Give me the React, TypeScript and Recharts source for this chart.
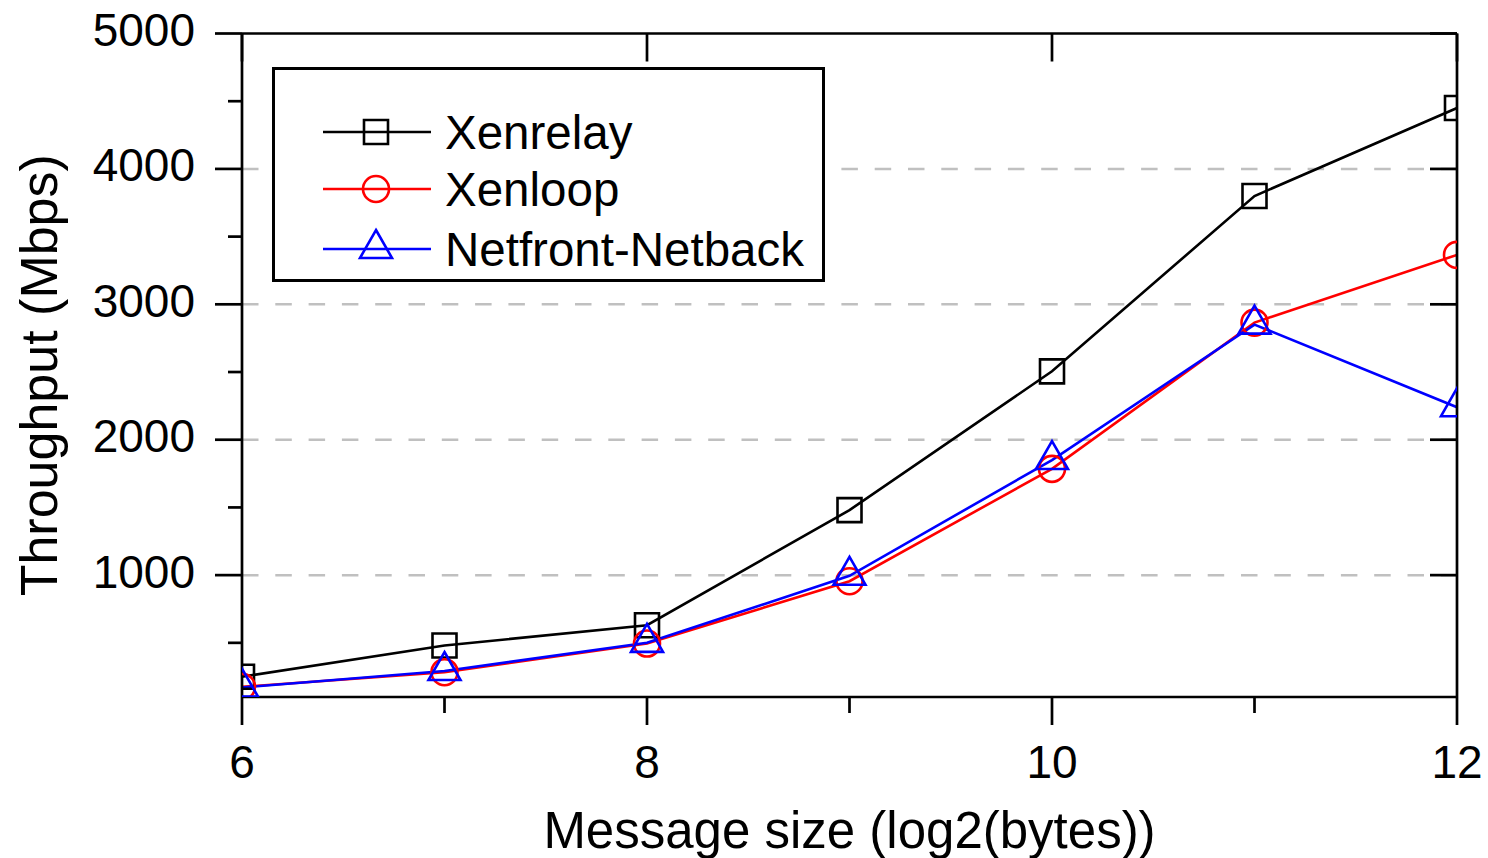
import React from 'react';
import { LineChart, Line, XAxis, YAxis, ReferenceLine, Legend } from 'recharts';

// ---- data ----
const messageSizes = [6, 7, 8, 9, 10, 11, 12];
const xenrelay = [250, 480, 630, 1480, 2505, 3800, 4450];
const xenloop = [175, 283, 495, 955, 1785, 2865, 3365];
const netfront = [170, 292, 500, 995, 1850, 2850, 2240];
const seriesNames = ['Xenrelay', 'Xenloop', 'Netfront-Netback'];

const xTicks = [6, 7, 8, 9, 10, 11, 12];
const xMajorTicks = [6, 8, 10, 12];
const yTicks = [500, 1000, 1500, 2000, 2500, 3000, 3500, 4000, 4500, 5000];
const yMajorTicks = [1000, 2000, 3000, 4000, 5000];
const gridValues = [1000, 2000, 3000, 4000];
const yDomain = [100, 5000];
const xDomain = [6, 12];

const xTitle = 'Message size (log2(bytes))';
const yTitle = 'Throughput (Mbps)';

const data = messageSizes.map((x, i) => ({
  x,
  xenrelay: xenrelay[i],
  xenloop: xenloop[i],
  netfront: netfront[i],
}));

// ---- styles ----
const FONT = '"Liberation Sans", Arial, sans-serif';
const FRAME_W = 2.7;
const W = 1488;
const H = 858;

const squarePath = (cx: number, cy: number, s: number) =>
  `M${cx - s},${cy - s}H${cx + s}V${cy + s}H${cx - s}Z`;
const trianglePath = (cx: number, cy: number) =>
  `M${cx},${cy - 19}L${cx + 16},${cy + 9}L${cx - 16},${cy + 9}Z`;

const Marker = ({ kind, cx, cy, color }: { kind: string; cx: number; cy: number; color: string }) => {
  if (kind === 'square')
    return <path d={squarePath(cx, cy, 12)} fill="none" stroke={color} strokeWidth={2.6} />;
  if (kind === 'circle')
    return <circle cx={cx} cy={cy} r={13} fill="none" stroke={color} strokeWidth={2.6} />;
  return <path d={trianglePath(cx, cy)} fill="none" stroke={color} strokeWidth={2.6} strokeLinejoin="miter" />;
};

const series = [
  { key: 'xenrelay', name: seriesNames[0], color: '#000000', marker: 'square' },
  { key: 'xenloop', name: seriesNames[1], color: '#ff0000', marker: 'circle' },
  { key: 'netfront', name: seriesNames[2], color: '#0000ff', marker: 'triangle' },
];

const LeftTick = (props: any) => {
  const { x, y, payload } = props;
  const major = payload.value % 1000 === 0;
  return (
    <g>
      <line x1={x - (major ? 27 : 14)} x2={x} y1={y} y2={y} stroke="#000" strokeWidth={FRAME_W} />
      {major && (
        <text x={x - 47} y={y + 12.5} textAnchor="end" fontSize={46} fontFamily={FONT} fill="#000">
          {payload.value}
        </text>
      )}
    </g>
  );
};

const RightTick = (props: any) => {
  const { x, y } = props;
  return <line x1={x - 27} x2={x} y1={y} y2={y} stroke="#000" strokeWidth={FRAME_W} />;
};

const TopTick = (props: any) => {
  const { x, y } = props;
  return <line x1={x} x2={x} y1={y} y2={y + 28} stroke="#000" strokeWidth={FRAME_W} />;
};

const BottomTick = (props: any) => {
  const { x, y, payload } = props;
  const major = payload.value % 2 === 0;
  return (
    <g>
      <line x1={x} x2={x} y1={y} y2={y + (major ? 28 : 16)} stroke="#000" strokeWidth={FRAME_W} />
      {major && (
        <text x={x} y={y + 81} textAnchor="middle" fontSize={46} fontFamily={FONT} fill="#000">
          {payload.value}
        </text>
      )}
    </g>
  );
};

const LegendBox = () => {
  const rows = [65, 122, 182];
  return (
    <svg width={554} height={215} style={{ display: 'block' }}>
      <rect x={1.5} y={1.5} width={550} height={212} fill="#fff" stroke="#000" strokeWidth={3} />
      {series.map((s, i) => (
        <g key={s.key}>
          <line x1={51} x2={159} y1={rows[i]} y2={rows[i]} stroke={s.color} strokeWidth={2.6} />
          <Marker kind={s.marker} cx={104} cy={rows[i]} color={s.color} />
          <text x={173} y={rows[i] + 17} fontSize={47.5} fontFamily={FONT} fill="#000">
            {s.name}
          </text>
        </g>
      ))}
    </svg>
  );
};

export default function App() {
  return (
    <div style={{ position: 'absolute', left: 0, top: 0, width: W, height: H, background: '#fff' }}>
      <LineChart width={W} height={H} data={data} margin={{ top: 0, right: 0, bottom: 0, left: 0 }}>
        <XAxis
          dataKey="x"
          type="number"
          domain={xDomain}
          ticks={xTicks}
          allowDataOverflow
          height={161}
          tickSize={0}
          tickMargin={0}
          tick={<BottomTick />}
          axisLine={{ stroke: '#000', strokeWidth: FRAME_W }}
          tickLine={false}
          interval={0}
          label={{
            content: (p: any) => {
              const vb = p.viewBox || { x: 242, y: 697, width: 1215, height: 161 };
              return (
                <text x={vb.x + vb.width / 2} y={vb.y + 151} textAnchor="middle" fontSize={51} fontFamily={FONT} fill="#000">
                  {xTitle}
                </text>
              );
            },
          }}
        />
        <XAxis
          xAxisId="top"
          orientation="top"
          dataKey="x"
          type="number"
          domain={xDomain}
          ticks={xMajorTicks}
          allowDataOverflow
          height={33.5}
          tickSize={0}
          tickMargin={0}
          tick={<TopTick />}
          axisLine={{ stroke: '#000', strokeWidth: FRAME_W }}
          tickLine={false}
          interval={0}
        />
        <YAxis
          type="number"
          domain={yDomain}
          ticks={yTicks}
          allowDataOverflow
          width={242}
          tickSize={0}
          tickMargin={0}
          tick={<LeftTick />}
          axisLine={{ stroke: '#000', strokeWidth: FRAME_W }}
          tickLine={false}
          interval={0}
          label={{
            content: (p: any) => {
              const vb = p.viewBox || { x: 0, y: 33.5, width: 242, height: 663.5 };
              const cx = vb.x + 57;
              const cy = vb.y + vb.height / 2 + 10;
              return (
                <text
                  x={cx}
                  y={cy}
                  transform={`rotate(-90, ${cx}, ${cy})`}
                  textAnchor="middle"
                  fontSize={52}
                  fontFamily={FONT}
                  fill="#000"
                >
                  {yTitle}
                </text>
              );
            },
          }}
        />
        <YAxis
          yAxisId="right"
          orientation="right"
          type="number"
          domain={yDomain}
          ticks={yMajorTicks}
          allowDataOverflow
          width={31}
          tickSize={0}
          tickMargin={0}
          tick={<RightTick />}
          axisLine={{ stroke: '#000', strokeWidth: FRAME_W }}
          tickLine={false}
          interval={0}
        />
        {gridValues.map((v) => (
          <ReferenceLine key={v} y={v} stroke="#c0c0c0" strokeWidth={2.5} strokeDasharray="16.5 16.8" />
        ))}
        {series.map((s) => (
          <Line
            key={s.key}
            type="linear"
            dataKey={s.key}
            name={s.name}
            stroke={s.color}
            strokeWidth={2.6}
            isAnimationActive={false}
            activeDot={false}
            legendType="none"
            dot={(p: any) => (
              <Marker key={`${s.key}-${p.index}`} kind={s.marker} cx={p.cx} cy={p.cy} color={s.color} />
            )}
          />
        ))}
        <Legend
          verticalAlign="middle"
          align="center"
          layout="horizontal"
          wrapperStyle={{ left: 272, top: 67, width: 554, height: 215 }}
          content={() => <LegendBox />}
        />
      </LineChart>
    </div>
  );
}
